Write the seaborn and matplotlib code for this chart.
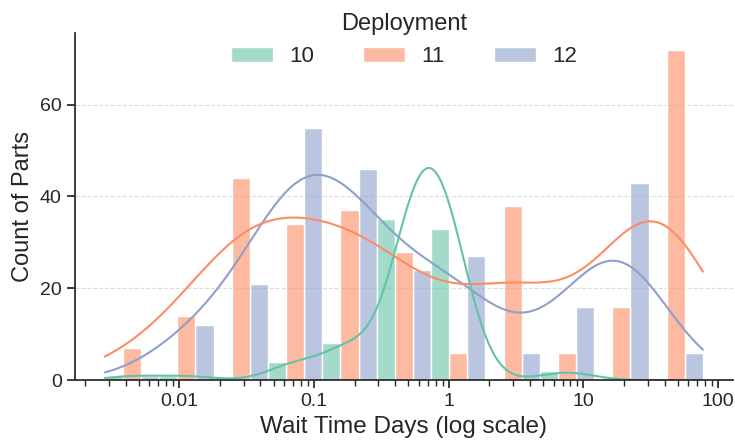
import matplotlib
matplotlib.use("Agg")
import matplotlib.pyplot as plt
from matplotlib.ticker import FuncFormatter
import numpy as np
import pandas as pd
import seaborn as sns

# per-bin typical wait (days) and count of parts
deployments = ["10", "11", "12"]
wait_10 = [0.0045, 0.0113, 0.0286, 0.072, 0.183, 0.55, 0.95, 2.98, 7.55, 19.1, 48.4]
counts_10 = [1, 1, 0, 4, 8, 35, 33, 0, 2, 0, 0]
wait_11 = [0.0045, 0.0113, 0.0286, 0.072, 0.183, 0.465, 1.18, 2.98, 7.55, 19.1, 38.0]
counts_11 = [7, 14, 44, 34, 37, 28, 6, 38, 6, 16, 72]
wait_12 = [0.0045, 0.0113, 0.0286, 0.072, 0.183, 0.465, 1.18, 2.98, 7.55, 19.1, 48.4]
counts_12 = [1, 12, 21, 55, 46, 24, 27, 6, 16, 43, 6]
wait_min = 0.0028
wait_max = 77.0
n_bins = 11
x_ticks = [0.01, 0.1, 1, 10, 100]
y_ticks = [0, 20, 40, 60]

log_range = (np.log10(wait_min), np.log10(wait_max))

frames = []
for dep, w, c in zip(deployments, [wait_10, wait_11, wait_12],
                     [counts_10, counts_11, counts_12]):
    frames.append(pd.DataFrame({"wait": w, "count": c, "Deployment": dep}))
df = pd.concat(frames, ignore_index=True)

sns.set_theme(style="ticks")
plt.rcParams["font.family"] = ["Liberation Sans", "DejaVu Sans"]

fig, ax = plt.subplots(figsize=(7.35, 4.4), dpi=100)
fig.subplots_adjust(left=0.102, right=0.997, bottom=0.136, top=0.925)

sns.histplot(
    data=df, x="wait", hue="Deployment", weights="count",
    bins=n_bins, binrange=log_range, log_scale=True, multiple="dodge",
    kde=True, palette="Set2", hue_order=deployments, alpha=0.6, ax=ax,
    kde_kws=dict(bw_adjust=0.45, cut=3, clip=log_range),
)

ax.yaxis.grid(True, linestyle="--", color="#dddddd", linewidth=0.8)
ax.set_axisbelow(True)
ax.set_xticks(x_ticks)
ax.set_yticks(y_ticks)
ax.xaxis.set_major_formatter(FuncFormatter(lambda v, p: f"{v:g}"))
ax.tick_params(labelsize=14)
ax.set_xlabel("Wait Time Days (log scale)", fontsize=17.5)
ax.set_ylabel("Count of Parts", fontsize=17)
sns.despine(ax=ax)

sns.move_legend(
    ax, "upper center", bbox_to_anchor=(0.5, 1.115), ncol=3, frameon=False,
    title="Deployment", fontsize=16, title_fontsize=17,
    handlelength=1.9, handleheight=0.63, columnspacing=2.2, handletextpad=0.72,
)

plt.savefig("out.png", dpi=100)
